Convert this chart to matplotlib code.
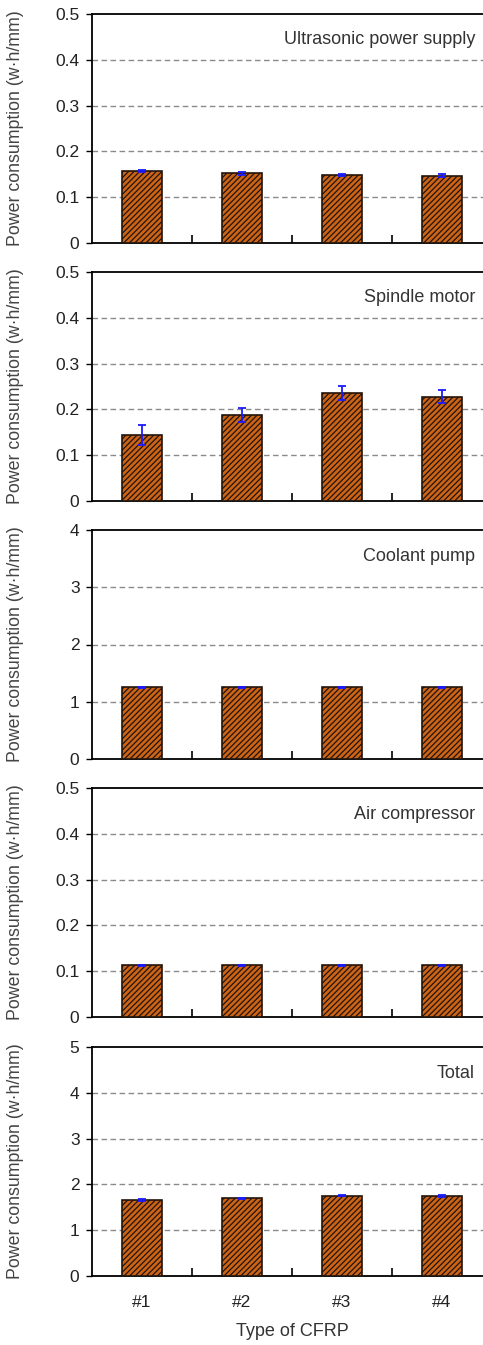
import matplotlib.pyplot as plt
import numpy as np

plt.rcParams['font.family'] = ['Liberation Sans', 'DejaVu Sans']
plt.rcParams['hatch.linewidth'] = 0.9

# data
categories = ['#1', '#2', '#3', '#4']
titles = ['Ultrasonic power supply', 'Spindle motor', 'Coolant pump',
          'Air compressor', 'Total']
ultrasonic = [0.157, 0.152, 0.148, 0.147]
ultrasonic_err = [0.002, 0.003, 0.002, 0.003]
spindle = [0.145, 0.188, 0.236, 0.228]
spindle_err = [0.022, 0.016, 0.015, 0.015]
coolant = [1.25, 1.25, 1.25, 1.25]
coolant_err = [0.005, 0.005, 0.005, 0.005]
air = [0.113, 0.113, 0.113, 0.113]
air_err = [0.001, 0.001, 0.001, 0.001]
total = [1.66, 1.70, 1.75, 1.74]
total_err = [0.025, 0.012, 0.01, 0.02]
ymaxes = [0.5, 0.5, 4, 0.5, 5]
ysteps = [0.1, 0.1, 1, 0.1, 1]

series = [ultrasonic, spindle, coolant, air, total]
errors = [ultrasonic_err, spindle_err, coolant_err, air_err, total_err]

W, H = 483, 1345
fig = plt.figure(figsize=(W / 100, H / 100), dpi=100)

x = np.arange(1, 5)
left = 92
right = 492
tops = [14, 272, 530, 788, 1047]
height = 229

for i in range(5):
    top = tops[i]
    ax = fig.add_axes([left / W, 1 - (top + height) / H, (right - left) / W, height / H])
    ax.bar(x, series[i], width=0.4, color='#CC6418', edgecolor='#22140a',
           hatch='//////', linewidth=1.2, zorder=3)
    ax.errorbar(x, series[i], yerr=errors[i], fmt='none', ecolor='#1a1aff',
                elinewidth=1.3, capsize=3, capthick=1.3, zorder=4)
    ax.set_xlim(0.5, 4.5)
    ax.set_ylim(0, ymaxes[i])
    ticks = np.arange(0, ymaxes[i] + ysteps[i] / 2, ysteps[i])
    ax.set_yticks(ticks)
    ax.set_yticklabels(['0' if t == 0 else f'{t:g}' for t in ticks], fontsize=12.5,
                       color='#222222')
    for t in ticks[1:-1]:
        ax.axhline(t, color='#8a8a8a', linewidth=1, linestyle=(0, (4, 2.5)), zorder=1)
    ax.tick_params(axis='y', direction='out', length=4, width=1, pad=5)
    ax.set_xticks([1.5, 2.5, 3.5], minor=True)
    ax.tick_params(axis='x', which='minor', direction='in', length=6, width=1.2)
    ax.tick_params(axis='x', which='major', length=0, pad=14)
    ax.set_xticks(x)
    if i == 4:
        ax.set_xticklabels(categories, fontsize=12.5, color='#222222')
        ax.set_xlabel('Type of CFRP', fontsize=13, color='#333333', labelpad=9)
    else:
        ax.set_xticklabels([])
    for s in ax.spines.values():
        s.set_linewidth(1.3)
    ax.set_ylabel('Power consumption (w·h/mm)', fontsize=12.8, color='#444444')
    ax.yaxis.set_label_coords((24 - left) / (right - left), 0.5)
    ax.text((475 - left) / (right - left), 1 - 26 / height, titles[i],
            transform=ax.transAxes, ha='right', va='center', fontsize=13,
            color='#333333')

plt.savefig('out.png', dpi=100)
